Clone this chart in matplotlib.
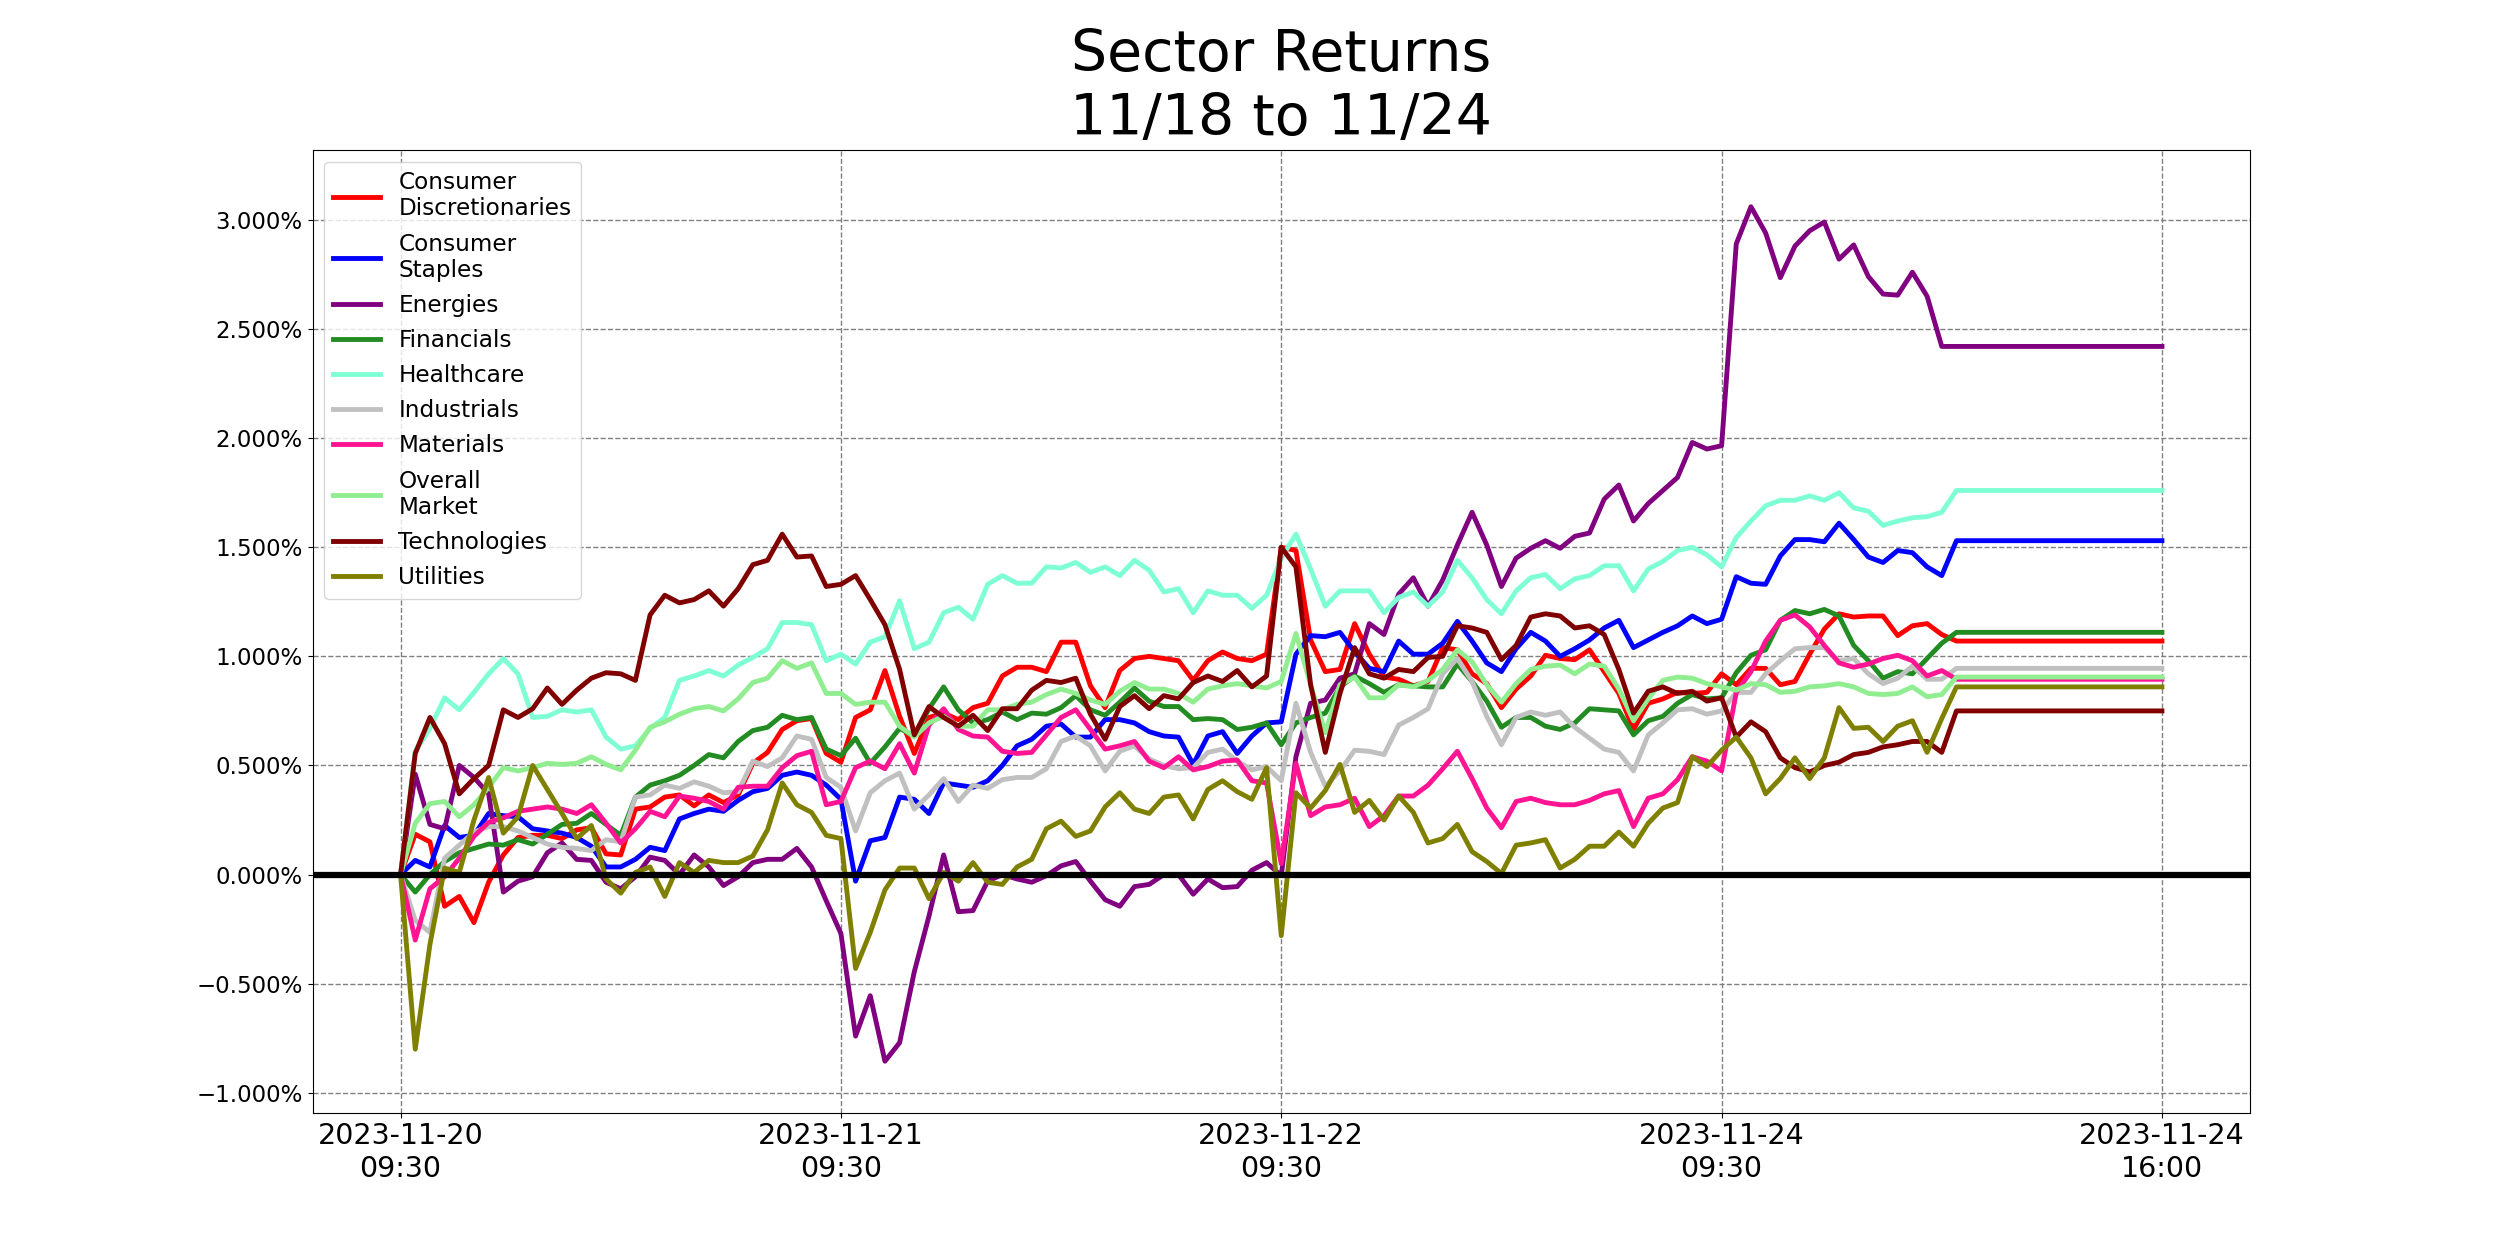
import numpy as np
import matplotlib
matplotlib.use("Agg")
import matplotlib.pyplot as plt
from matplotlib.ticker import PercentFormatter

# ---- data: returns in percent, 30 samples per session (last session half-day) ----
tick_positions = [0, 30, 60, 90, 120]
tick_labels = ["2023-11-20\n09:30", "2023-11-21\n09:30", "2023-11-22\n09:30",
               "2023-11-24\n09:30", "2023-11-24\n16:00"]

consumer_disc = [
    0, 0.185, 0.15, -0.145, -0.10, -0.22, -0.035, 0.09, 0.17, 0.18, 0.18, 0.165, 0.205, 0.215, 0.095, 0.09,
    0.30, 0.31, 0.355, 0.365, 0.315, 0.365, 0.33, 0.365, 0.51, 0.56, 0.665, 0.705, 0.715, 0.555,
    0.515, 0.72, 0.755, 0.935, 0.725, 0.555, 0.72, 0.74, 0.71, 0.765, 0.785, 0.91, 0.95, 0.95, 0.93, 1.065,
    1.065, 0.865, 0.765, 0.935, 0.99, 1.0, 0.99, 0.98, 0.89, 0.98, 1.02, 0.99, 0.98, 1.01,
    1.50, 1.485, 1.075, 0.93, 0.94, 1.15, 1.01, 0.905, 0.895, 0.865, 0.885, 1.04, 1.03, 0.92, 0.875, 0.765,
    0.85, 0.91, 1.005, 0.99, 0.985, 1.03, 0.93, 0.83, 0.665, 0.785, 0.805, 0.835, 0.83, 0.835,
    0.92, 0.87, 0.945, 0.945, 0.87, 0.885, 1.01, 1.125, 1.195, 1.18, 1.185, 1.185, 1.095, 1.14, 1.15, 1.10, 1.07]

consumer_staples = [
    0, 0.065, 0.035, 0.225, 0.17, 0.18, 0.28, 0.27, 0.265, 0.21, 0.20, 0.19, 0.17, 0.13, 0.035, 0.035,
    0.07, 0.125, 0.11, 0.255, 0.28, 0.30, 0.29, 0.34, 0.38, 0.395, 0.455, 0.47, 0.455, 0.41,
    0.345, -0.03, 0.155, 0.17, 0.355, 0.345, 0.28, 0.42, 0.41, 0.40, 0.43, 0.50, 0.59, 0.62, 0.68, 0.69,
    0.63, 0.63, 0.71, 0.71, 0.695, 0.655, 0.635, 0.63, 0.505, 0.635, 0.655, 0.555, 0.635, 0.695,
    0.70, 1.01, 1.095, 1.09, 1.11, 1.02, 0.945, 0.93, 1.07, 1.01, 1.01, 1.06, 1.16, 1.07, 0.97, 0.93,
    1.035, 1.11, 1.07, 1.00, 1.035, 1.075, 1.13, 1.165, 1.04, 1.075, 1.11, 1.14, 1.185, 1.15,
    1.17, 1.365, 1.335, 1.33, 1.46, 1.535, 1.535, 1.525, 1.61, 1.535, 1.455, 1.43, 1.485, 1.475, 1.41, 1.37, 1.53]

energies = [
    0, 0.46, 0.23, 0.21, 0.50, 0.445, 0.37, -0.08, -0.03, -0.01, 0.10, 0.145, 0.07, 0.065, -0.035, -0.065,
    -0.01, 0.08, 0.065, 0.0, 0.09, 0.035, -0.05, -0.01, 0.055, 0.07, 0.07, 0.12, 0.035, -0.12,
    -0.27, -0.74, -0.555, -0.855, -0.77, -0.445, -0.19, 0.09, -0.17, -0.165, -0.03, 0.0, -0.02, -0.035, -0.005, 0.04,
    0.06, -0.03, -0.115, -0.145, -0.055, -0.045, 0.0, 0.0, -0.09, -0.02, -0.06, -0.055, 0.02, 0.055,
    -0.005, 0.54, 0.785, 0.80, 0.90, 0.92, 1.15, 1.10, 1.285, 1.36, 1.23, 1.35, 1.51, 1.66, 1.51, 1.32,
    1.45, 1.495, 1.53, 1.495, 1.55, 1.565, 1.72, 1.785, 1.62, 1.70, 1.76, 1.82, 1.98, 1.95,
    1.965, 2.89, 3.06, 2.94, 2.735, 2.88, 2.95, 2.99, 2.82, 2.885, 2.74, 2.66, 2.655, 2.76, 2.65, 2.42, 2.42]

financials = [
    0, -0.08, 0.0, 0.06, 0.10, 0.12, 0.14, 0.135, 0.16, 0.14, 0.185, 0.23, 0.235, 0.28, 0.23, 0.18,
    0.355, 0.41, 0.43, 0.455, 0.50, 0.55, 0.535, 0.61, 0.66, 0.675, 0.73, 0.71, 0.72, 0.575,
    0.545, 0.625, 0.51, 0.585, 0.67, 0.635, 0.76, 0.86, 0.755, 0.695, 0.71, 0.745, 0.71, 0.74, 0.735, 0.765,
    0.82, 0.755, 0.73, 0.79, 0.855, 0.795, 0.77, 0.77, 0.71, 0.715, 0.71, 0.665, 0.675, 0.695,
    0.595, 0.695, 0.72, 0.74, 0.86, 0.91, 0.875, 0.835, 0.87, 0.865, 0.86, 0.86, 0.965, 0.885, 0.795, 0.675,
    0.72, 0.72, 0.68, 0.665, 0.695, 0.76, 0.755, 0.75, 0.64, 0.705, 0.725, 0.785, 0.825, 0.805,
    0.81, 0.925, 1.005, 1.03, 1.165, 1.21, 1.195, 1.215, 1.185, 1.05, 0.98, 0.90, 0.93, 0.92, 0.99, 1.06, 1.11]

healthcare = [
    0, 0.565, 0.67, 0.81, 0.755, 0.835, 0.92, 0.99, 0.92, 0.72, 0.725, 0.755, 0.745, 0.755, 0.63, 0.575,
    0.59, 0.67, 0.72, 0.89, 0.91, 0.935, 0.91, 0.96, 0.995, 1.035, 1.155, 1.155, 1.145, 0.98,
    1.01, 0.965, 1.065, 1.09, 1.255, 1.035, 1.065, 1.20, 1.225, 1.17, 1.33, 1.37, 1.335, 1.335, 1.41, 1.405,
    1.43, 1.385, 1.41, 1.37, 1.44, 1.395, 1.295, 1.31, 1.20, 1.30, 1.28, 1.28, 1.22, 1.28,
    1.45, 1.56, 1.40, 1.23, 1.30, 1.30, 1.30, 1.20, 1.27, 1.295, 1.23, 1.295, 1.44, 1.36, 1.26, 1.195,
    1.30, 1.36, 1.375, 1.31, 1.355, 1.37, 1.415, 1.415, 1.30, 1.40, 1.435, 1.485, 1.50, 1.465,
    1.41, 1.545, 1.62, 1.69, 1.715, 1.715, 1.735, 1.715, 1.75, 1.68, 1.665, 1.60, 1.62, 1.635, 1.64, 1.66, 1.76]

industrials = [
    0, -0.21, -0.265, 0.075, 0.135, 0.195, 0.22, 0.22, 0.20, 0.17, 0.14, 0.125, 0.12, 0.11, 0.16, 0.15,
    0.355, 0.365, 0.41, 0.395, 0.425, 0.405, 0.375, 0.38, 0.52, 0.495, 0.535, 0.635, 0.62, 0.445,
    0.40, 0.20, 0.375, 0.43, 0.465, 0.30, 0.365, 0.44, 0.335, 0.41, 0.395, 0.435, 0.445, 0.445, 0.485, 0.61,
    0.635, 0.59, 0.475, 0.565, 0.59, 0.53, 0.50, 0.485, 0.49, 0.56, 0.575, 0.52, 0.48, 0.495,
    0.43, 0.785, 0.56, 0.405, 0.475, 0.57, 0.565, 0.55, 0.685, 0.72, 0.76, 0.92, 0.99, 0.885, 0.725, 0.595,
    0.72, 0.745, 0.73, 0.745, 0.675, 0.625, 0.575, 0.56, 0.475, 0.64, 0.695, 0.755, 0.76, 0.735,
    0.75, 0.835, 0.835, 0.92, 0.98, 1.035, 1.04, 1.04, 0.98, 0.99, 0.92, 0.875, 0.90, 0.955, 0.895, 0.895, 0.945]

materials = [
    0, -0.30, -0.065, -0.01, 0.075, 0.175, 0.24, 0.26, 0.29, 0.30, 0.31, 0.30, 0.28, 0.32, 0.235, 0.145,
    0.21, 0.29, 0.265, 0.36, 0.35, 0.335, 0.30, 0.40, 0.405, 0.405, 0.49, 0.545, 0.565, 0.32,
    0.335, 0.49, 0.52, 0.485, 0.60, 0.465, 0.685, 0.76, 0.665, 0.635, 0.63, 0.565, 0.555, 0.56, 0.64, 0.72,
    0.755, 0.665, 0.575, 0.59, 0.61, 0.52, 0.49, 0.54, 0.48, 0.495, 0.52, 0.525, 0.43, 0.42,
    0.05, 0.51, 0.27, 0.31, 0.32, 0.35, 0.22, 0.27, 0.36, 0.36, 0.41, 0.485, 0.565, 0.44, 0.305, 0.215,
    0.335, 0.35, 0.33, 0.32, 0.32, 0.34, 0.37, 0.385, 0.22, 0.35, 0.37, 0.435, 0.54, 0.52,
    0.475, 0.835, 0.93, 1.07, 1.165, 1.19, 1.135, 1.05, 0.97, 0.95, 0.965, 0.99, 1.005, 0.98, 0.91, 0.935, 0.895]

overall_market = [
    0, 0.235, 0.325, 0.335, 0.265, 0.32, 0.40, 0.49, 0.475, 0.49, 0.51, 0.505, 0.51, 0.54, 0.505, 0.48,
    0.57, 0.675, 0.70, 0.735, 0.76, 0.77, 0.75, 0.805, 0.88, 0.90, 0.98, 0.945, 0.97, 0.83,
    0.83, 0.78, 0.79, 0.79, 0.68, 0.63, 0.695, 0.725, 0.68, 0.68, 0.755, 0.755, 0.78, 0.79, 0.825, 0.85,
    0.83, 0.80, 0.78, 0.84, 0.88, 0.85, 0.85, 0.83, 0.79, 0.85, 0.865, 0.875, 0.865, 0.855,
    0.885, 1.105, 0.87, 0.65, 0.87, 0.905, 0.81, 0.81, 0.87, 0.86, 0.89, 0.94, 1.03, 0.975, 0.87, 0.79,
    0.875, 0.94, 0.955, 0.96, 0.92, 0.965, 0.955, 0.85, 0.705, 0.805, 0.89, 0.905, 0.90, 0.875,
    0.86, 0.845, 0.875, 0.87, 0.835, 0.84, 0.86, 0.865, 0.875, 0.86, 0.83, 0.825, 0.83, 0.86, 0.815, 0.825, 0.905]

technologies = [
    0, 0.555, 0.72, 0.60, 0.37, 0.44, 0.50, 0.755, 0.72, 0.76, 0.855, 0.78, 0.845, 0.90, 0.925, 0.92,
    0.89, 1.19, 1.28, 1.245, 1.26, 1.30, 1.23, 1.31, 1.42, 1.44, 1.56, 1.455, 1.46, 1.32,
    1.33, 1.37, 1.26, 1.145, 0.94, 0.64, 0.77, 0.72, 0.68, 0.73, 0.66, 0.76, 0.76, 0.845, 0.89, 0.88,
    0.90, 0.735, 0.62, 0.77, 0.82, 0.76, 0.82, 0.805, 0.88, 0.91, 0.885, 0.935, 0.86, 0.91,
    1.50, 1.41, 0.87, 0.56, 0.83, 1.04, 0.92, 0.90, 0.94, 0.93, 0.995, 1.00, 1.14, 1.13, 1.11, 0.985,
    1.05, 1.18, 1.195, 1.185, 1.13, 1.14, 1.10, 0.94, 0.74, 0.84, 0.86, 0.83, 0.84, 0.795,
    0.81, 0.63, 0.70, 0.655, 0.535, 0.49, 0.47, 0.50, 0.515, 0.55, 0.56, 0.585, 0.595, 0.61, 0.61, 0.56, 0.75]

utilities = [
    0, -0.80, -0.32, 0.03, 0.01, 0.25, 0.445, 0.19, 0.265, 0.50, 0.39, 0.28, 0.165, 0.225, -0.02, -0.085,
    0.01, 0.035, -0.10, 0.055, 0.01, 0.065, 0.055, 0.055, 0.085, 0.205, 0.42, 0.32, 0.285, 0.18,
    0.165, -0.43, -0.265, -0.07, 0.03, 0.03, -0.11, 0.01, -0.03, 0.055, -0.035, -0.045, 0.035, 0.07, 0.21, 0.245,
    0.175, 0.20, 0.31, 0.375, 0.30, 0.28, 0.355, 0.365, 0.255, 0.39, 0.43, 0.38, 0.345, 0.49,
    -0.28, 0.375, 0.305, 0.385, 0.505, 0.285, 0.34, 0.25, 0.36, 0.285, 0.145, 0.165, 0.23, 0.105, 0.06, 0.005,
    0.135, 0.145, 0.16, 0.03, 0.07, 0.13, 0.13, 0.195, 0.13, 0.235, 0.305, 0.33, 0.54, 0.495,
    0.57, 0.63, 0.535, 0.37, 0.44, 0.535, 0.44, 0.535, 0.765, 0.67, 0.675, 0.61, 0.68, 0.705, 0.56, 0.715, 0.86]

labels = ["Consumer\nDiscretionaries", "Consumer\nStaples", "Energies", "Financials",
          "Healthcare", "Industrials", "Materials", "Overall\nMarket", "Technologies", "Utilities"]
colors = ["red", "blue", "purple", "forestgreen", "aquamarine", "silver",
          "deeppink", "lightgreen", "#800000", "olive"]
series = [consumer_disc, consumer_staples, energies, financials, healthcare,
          industrials, materials, overall_market, technologies, utilities]

end_pos = tick_positions[-1]

fig, ax = plt.subplots(figsize=(25, 12.5), dpi=100)
fig.subplots_adjust(left=0.125, right=0.9, bottom=0.11, top=0.88)

for vals, lab, col in zip(series, labels, colors):
    v = np.asarray(vals, dtype=float)
    x = np.arange(len(v))
    # session closed early: hold last value until the end of the axis
    xs = np.append(x, end_pos)
    ys = np.append(v, v[-1])
    ax.plot(xs, ys, color=col, lw=3.5, label=lab)

ax.axhline(0, color="black", lw=4.5, zorder=5)

ax.set_xticks(tick_positions)
ax.set_xticklabels(tick_labels, fontsize=20.5)
ax.set_yticks(np.arange(-1.0, 3.01, 0.5))
ax.yaxis.set_major_formatter(PercentFormatter(xmax=100, decimals=3))
ax.tick_params(axis="y", labelsize=16.5)
ax.set_xlim(-6, 126)
ax.set_ylim(-1.09, 3.32)
ax.grid(True, color="gray", linestyle="--", lw=1.0)

ax.set_title("Sector Returns\n11/18 to 11/24", fontsize=41, pad=11)
ax.legend(loc="upper left", fontsize=16.7, labelspacing=0.52)

fig.savefig("out.png", dpi=100)
